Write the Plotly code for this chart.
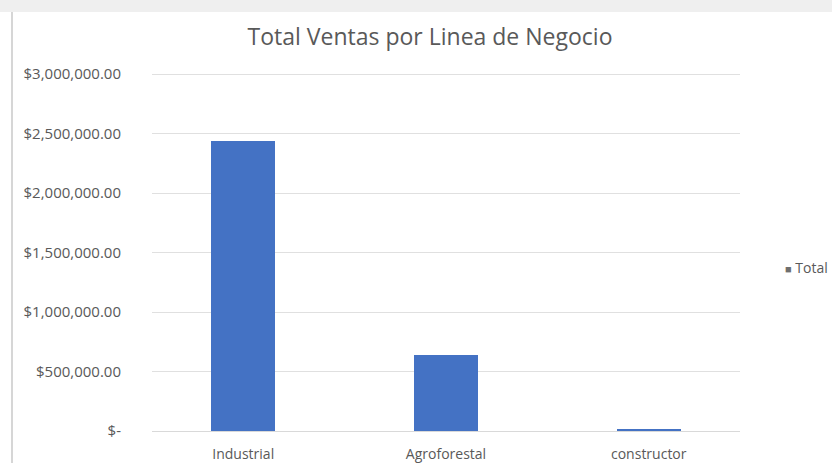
import plotly.graph_objects as go

# Sales totals by business line
categorias = ["Industrial", "Agroforestal", "constructor"]
total_ventas = [2435000, 640000, 12000]

# Y axis ticks in accounting format
y_ticks = [0, 500000, 1000000, 1500000, 2000000, 2500000, 3000000]
y_tick_labels = ["$-", "$500,000.00", "$1,000,000.00", "$1,500,000.00",
                 "$2,000,000.00", "$2,500,000.00", "$3,000,000.00"]

W, H = 832, 463
ML, MR, MT, MB = 152, 92, 73, 32
PW, PH = W - ML - MR, H - MT - MB
GREY_TEXT = "#595959"
FONT = "Open Sans"


def px_x(x):
    return (x - ML) / PW


def px_y(y):
    return (H - MB - y) / PH


# Positions on the x axis; labels come from the category names
# (numeric slots avoid plotly.js treating "constructor" as an object key)
x_pos = list(range(len(categorias)))

fig = go.Figure()
fig.add_trace(go.Bar(
    x=x_pos,
    y=total_ventas,
    name="Total",
    hovertext=categorias,
    marker=dict(color="#4472C4", line=dict(width=0)),
    width=0.315,
    showlegend=False,
))

fig.update_layout(
    width=W, height=H,
    margin=dict(l=ML, r=MR, t=MT, b=MB),
    paper_bgcolor="white",
    plot_bgcolor="white",
    font=dict(family=FONT, color=GREY_TEXT, size=14),
    title=dict(
        text="Total Ventas por Linea de Negocio",
        x=430 / W, xanchor="center", xref="container",
        y=1 - 37 / H, yanchor="middle", yref="container",
        font=dict(family=FONT, size=23, color=GREY_TEXT),
    ),
    xaxis=dict(
        range=[-0.45, 2.45],
        tickmode="array", tickvals=x_pos, ticktext=categorias,
        showgrid=False, zeroline=False, showline=False,
        ticks="outside", ticklen=10, tickcolor="rgba(0,0,0,0)",
        tickfont=dict(size=14, color=GREY_TEXT),
        automargin=False,
    ),
    yaxis=dict(
        range=[0, 3010000],
        tickvals=y_ticks, ticktext=y_tick_labels,
        showgrid=True, gridcolor="#e0e0e0", gridwidth=1,
        zeroline=True, zerolinecolor="#d9d9d9", zerolinewidth=1,
        showline=False,
        ticks="outside", ticklen=27, tickcolor="rgba(0,0,0,0)",
        tickfont=dict(size=15, color=GREY_TEXT),
        automargin=False,
    ),
    bargap=0,
)

# Legend entry at the right edge
fig.add_annotation(
    x=px_x(783), y=px_y(267), xref="paper", yref="paper",
    text="<span style='color:#6f6f6f;font-size:11px'>■</span> Total",
    showarrow=False, xanchor="left", yanchor="middle",
    font=dict(family=FONT, size=14, color=GREY_TEXT),
)

# Page framing: grey band across the top and a thin rule on the left
fig.add_shape(type="rect", xref="paper", yref="paper",
              x0=px_x(0), x1=px_x(W), y0=px_y(12), y1=px_y(0),
              fillcolor="#efefef", line=dict(width=0), layer="below")
fig.add_shape(type="line", xref="paper", yref="paper",
              x0=px_x(12), x1=px_x(12), y0=px_y(H), y1=px_y(12),
              line=dict(color="#c8c8c8", width=1.5))

fig.write_html("out.html")
